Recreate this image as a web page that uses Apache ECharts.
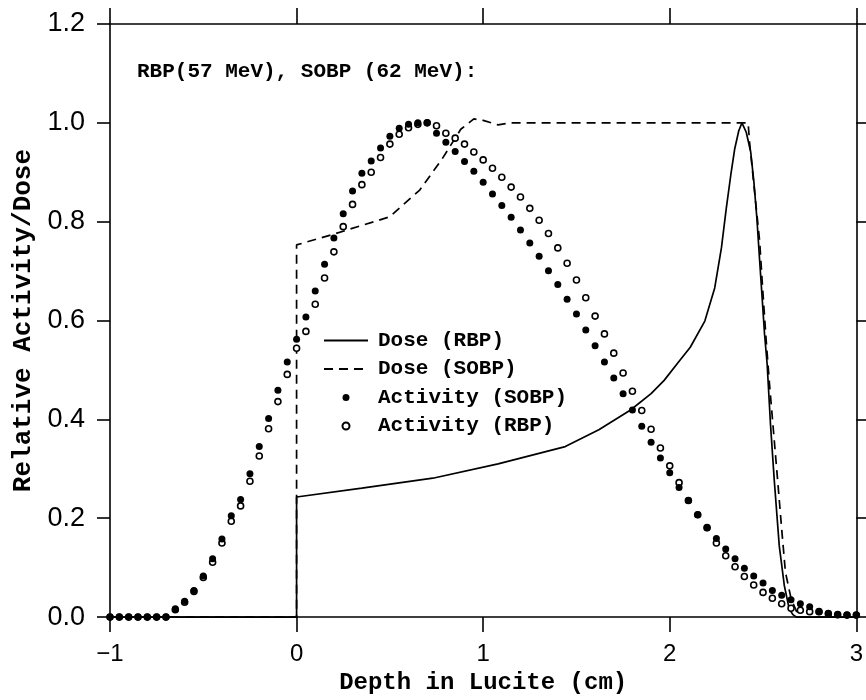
<!DOCTYPE html>
<html>
<head>
<meta charset="utf-8">
<script src="https://cdn.jsdelivr.net/npm/echarts@6/dist/echarts.min.js"></script>
<style>html,body{margin:0;padding:0;background:#fff}#c{width:866px;height:700px}</style>
</head>
<body>
<div id="c"></div>
<script>
// Depth positions of the activity measurements (cm)
const depth = [-1.00,-0.95,-0.90,-0.85,-0.80,-0.75,-0.70,-0.65,-0.60,-0.55,-0.50,-0.45,-0.40,-0.35,-0.30,-0.25,-0.20,-0.15,-0.10,-0.05,
  0.00,0.05,0.10,0.15,0.20,0.25,0.30,0.35,0.40,0.45,0.50,0.55,0.60,0.65,0.70,0.75,0.80,0.85,0.90,0.95,
  1.00,1.05,1.10,1.15,1.20,1.25,1.30,1.35,1.40,1.45,1.50,1.55,1.60,1.65,1.70,1.75,1.80,1.85,1.90,1.95,
  2.00,2.05,2.10,2.15,2.20,2.25,2.30,2.35,2.40,2.45,2.50,2.55,2.60,2.65,2.70,2.75,2.80,2.85,2.90,2.95,3.00];

// Activity (SOBP) - filled dots
const activitySOBP = [0,0,0,0,0,0,0,0.017,0.032,0.054,0.083,0.118,0.158,0.205,0.238,0.290,0.345,0.402,0.459,0.516,
  0.562,0.607,0.660,0.714,0.767,0.816,0.862,0.898,0.923,0.949,0.973,0.989,0.997,1.000,1.000,0.979,0.961,0.942,0.922,0.902,
  0.880,0.856,0.833,0.809,0.783,0.757,0.730,0.701,0.673,0.643,0.613,0.581,0.549,0.516,0.484,0.452,0.419,0.386,0.354,0.322,
  0.292,0.262,0.236,0.207,0.181,0.159,0.138,0.118,0.099,0.083,0.069,0.054,0.044,0.035,0.027,0.021,0.011,0.007,0.005,0.004,0.004];

// Activity (RBP) - open circles
const activityRBP = [0,0,0,0,0,0,0,0.015,0.030,0.052,0.080,0.111,0.150,0.194,0.225,0.275,0.326,0.381,0.436,0.491,
  0.544,0.578,0.633,0.686,0.739,0.790,0.835,0.875,0.900,0.930,0.957,0.977,0.990,0.997,1.000,0.994,0.979,0.969,0.957,0.941,
  0.925,0.908,0.890,0.870,0.850,0.827,0.803,0.776,0.747,0.716,0.682,0.646,0.609,0.573,0.534,0.494,0.457,0.418,0.380,0.342,
  0.306,0.272,0.236,0.207,0.181,0.150,0.124,0.102,0.082,0.065,0.050,0.038,0.027,0.018,0.014,0.011,0.011,0.007,0.005,0.004,0.004];

// Dose (RBP) - solid line
const doseRBPDepth = [-1,0,0,0.35,0.73,1.08,1.44,1.62,1.79,1.90,1.97,2.045,2.11,2.188,2.241,2.277,2.303,2.327,2.348,2.370,2.387,
  2.410,2.434,2.451,2.467,2.481,2.494,2.508,2.522,2.540,2.560,2.587,2.614,2.640,2.660,2.680,3];
const doseRBPValue = [0,0,0.243,0.261,0.281,0.310,0.345,0.379,0.419,0.452,0.479,0.515,0.546,0.599,0.666,0.747,0.827,0.894,0.947,0.984,1.000,
  0.981,0.941,0.880,0.807,0.726,0.653,0.573,0.512,0.390,0.278,0.144,0.064,0.017,0.005,0,0];

// Dose (SOBP) - dashed line
const doseSOBPDepth = [-1,0,0,0.2,0.5,0.66,0.78,0.88,0.95,1.0,1.08,1.15,2.42,2.428,2.455,2.482,2.50,2.517,2.535,2.578,2.60,2.62,2.65,2.68,2.70,3];
const doseSOBPValue = [0,0,0.753,0.775,0.810,0.864,0.927,0.987,1.008,1.005,0.996,1.000,1.000,0.960,0.860,0.760,0.653,0.559,0.470,0.278,0.178,0.091,0.038,0.011,0,0];

// Axis ticks
const xTicks = {min: -1, max: 3, interval: 1};
const yTicks = {min: 0, max: 1.2, interval: 0.2};

const titleText = 'RBP(57 MeV), SOBP (62 MeV):';
const xTitle = 'Depth in Lucite (cm)';
const yTitle = 'Relative Activity/Dose';
const legendNames = ['Dose (RBP)', 'Dose (SOBP)', 'Activity (SOBP)', 'Activity (RBP)'];

const zip = (a, b) => a.map((v, i) => [v, b[i]]);

const mono = 'Liberation Mono';
const sans = 'Liberation Sans';
const axisLine = {show: true, onZero: false, lineStyle: {color: '#000', width: 1.6}};

const chart = echarts.init(document.getElementById('c'), null, {renderer: 'canvas'});
chart.setOption({
  animation: false,
  backgroundColor: '#fff',
  title: {
    text: titleText, left: 137, top: 61, padding: 0,
    textStyle: {fontFamily: mono, fontSize: 21, fontWeight: 'bold', color: '#000'}
  },
  legend: {
    orient: 'vertical', left: 323, top: 330, itemWidth: 44, itemHeight: 7, itemGap: 7.5,
    padding: 0,
    textStyle: {fontFamily: mono, fontSize: 21, fontWeight: 'bold', color: '#000', padding: [0,0,0,5]},
    data: [
      {name: legendNames[0], itemStyle: {opacity: 0}},
      {name: legendNames[1], itemStyle: {opacity: 0}},
      {name: legendNames[2]},
      {name: legendNames[3]}
    ]
  },
  grid: {left: 110, right: 7, top: 24, bottom: 78, containLabel: false},
  xAxis: [{
    type: 'value', min: xTicks.min, max: xTicks.max, interval: xTicks.interval,
    position: 'bottom',
    name: xTitle, nameLocation: 'middle', nameGap: 45,
    nameTextStyle: {fontFamily: mono, fontSize: 24, fontWeight: 'bold', color: '#000'},
    axisLine: axisLine,
    axisTick: {show: true, inside: false, length: 15, lineStyle: {color: '#000', width: 1.6}},
    axisLabel: {fontFamily: sans, fontSize: 24, color: '#000', margin: 25,
      formatter: v => String(v).replace('-', '\u2212')},
    splitLine: {show: false}
  }, {
    type: 'value', min: xTicks.min, max: xTicks.max, interval: xTicks.interval,
    position: 'top',
    axisLine: axisLine,
    axisTick: {show: true, inside: false, length: 16, lineStyle: {color: '#000', width: 1.6}},
    axisLabel: {show: false},
    splitLine: {show: false}
  }],
  yAxis: [{
    type: 'value', min: yTicks.min, max: yTicks.max, interval: yTicks.interval,
    position: 'left',
    name: yTitle, nameLocation: 'middle', nameGap: 68, nameRotate: 90,
    nameTextStyle: {fontFamily: mono, fontSize: 26, fontWeight: 'bold', color: '#000'},
    axisLine: axisLine,
    axisTick: {show: true, inside: false, length: 13, lineStyle: {color: '#000', width: 1.6}},
    axisLabel: {fontFamily: sans, fontSize: 27, color: '#000', margin: 25,
      formatter: v => v.toFixed(1)},
    splitLine: {show: false}
  }, {
    type: 'value', min: yTicks.min, max: yTicks.max, interval: yTicks.interval,
    position: 'right',
    axisLine: axisLine,
    axisTick: {show: true, inside: false, length: 13, lineStyle: {color: '#000', width: 1.6}},
    axisLabel: {show: false},
    splitLine: {show: false}
  }],
  series: [{
    name: legendNames[0], type: 'line', xAxisIndex: 0, yAxisIndex: 0,
    data: zip(doseRBPDepth, doseRBPValue), symbol: 'none', showSymbol: false, smooth: false,
    lineStyle: {color: '#000', width: 1.7, type: 'solid'}, itemStyle: {color: '#000'}, z: 2
  }, {
    name: legendNames[1], type: 'line', xAxisIndex: 0, yAxisIndex: 0,
    data: zip(doseSOBPDepth, doseSOBPValue), symbol: 'none', showSymbol: false, smooth: false,
    lineStyle: {color: '#000', width: 1.7, type: [9, 6]}, itemStyle: {color: '#000'}, z: 2
  }, {
    name: legendNames[2], type: 'scatter', xAxisIndex: 0, yAxisIndex: 0,
    data: zip(depth, activitySOBP), symbol: 'circle', symbolSize: 7,
    itemStyle: {color: '#000', opacity: 1}, z: 5
  }, {
    name: legendNames[3], type: 'scatter', xAxisIndex: 0, yAxisIndex: 0,
    data: zip(depth, activityRBP), symbol: 'circle', symbolSize: 6,
    itemStyle: {color: '#fff', borderColor: '#000', borderWidth: 1.6, opacity: 1}, z: 4
  }]
});
</script>
</body>
</html>
